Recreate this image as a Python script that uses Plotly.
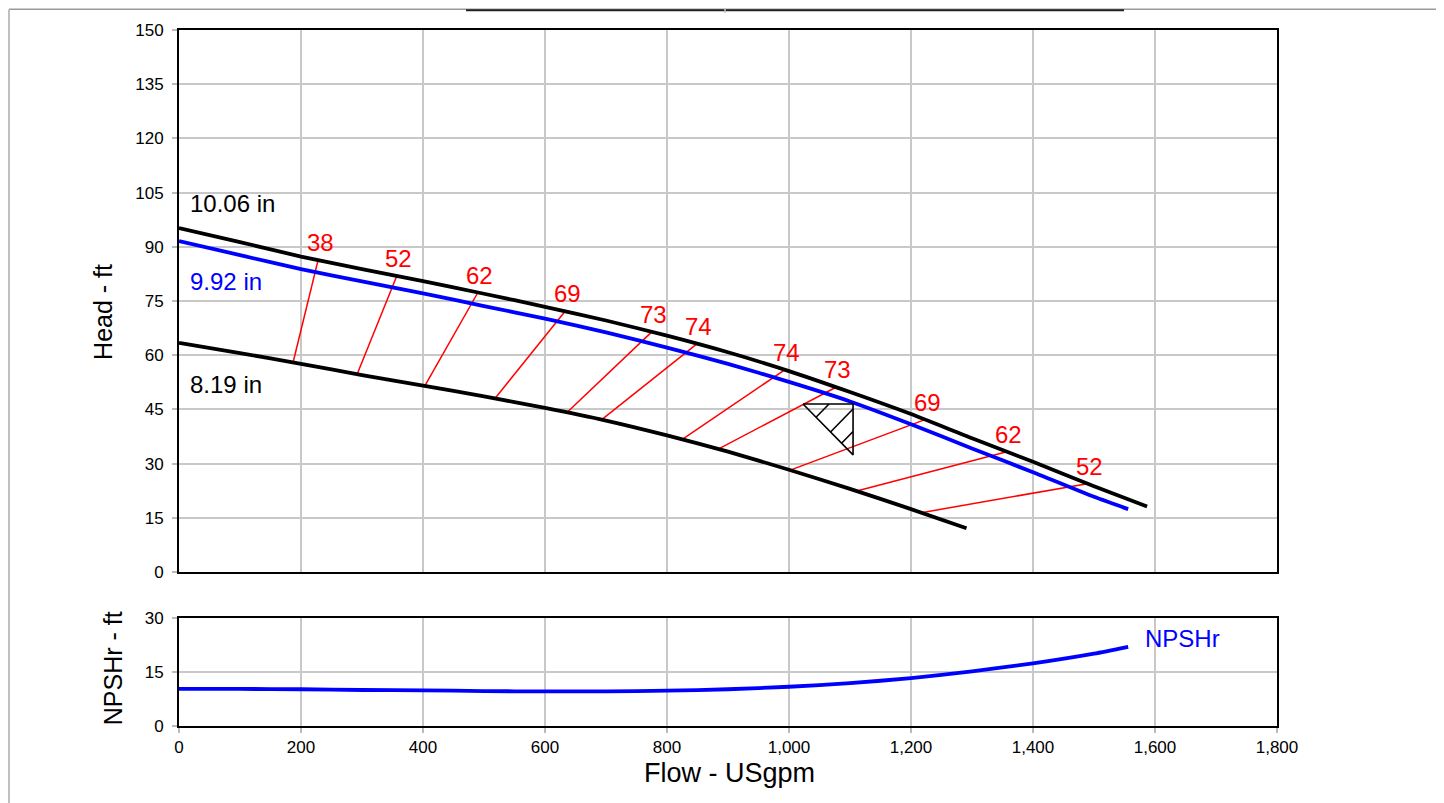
import numpy as np
import plotly.graph_objects as go

# ---------------- data ----------------
flow_1006 = [0, 100, 200, 300, 400, 500, 600, 700, 800, 900, 1000, 1100, 1200, 1300, 1400, 1500, 1587]
head_1006 = [95.2, 91.3, 87.3, 83.8, 80.5, 77.0, 73.4, 69.6, 65.4, 60.8, 55.6, 49.8, 43.7, 37.0, 30.5, 23.7, 18.1]

flow_992 = [0, 100, 200, 300, 400, 500, 600, 700, 800, 900, 1000, 1100, 1200, 1300, 1400, 1500, 1556]
head_992 = [91.6, 87.7, 83.8, 80.4, 77.1, 73.6, 70.1, 66.3, 62.1, 57.6, 52.6, 47.2, 40.9, 34.2, 27.6, 20.8, 17.4]

flow_819 = [0, 100, 200, 300, 400, 500, 600, 700, 800, 900, 1000, 1100, 1200, 1291]
head_819 = [63.4, 60.6, 57.6, 54.5, 51.6, 48.6, 45.4, 41.9, 37.8, 33.3, 28.3, 23.0, 17.4, 12.1]

eff_labels = [38, 52, 62, 69, 73, 74, 74, 73, 69, 62, 52]
eff_flow_low = [187, 292, 403, 518, 636, 693, 825, 884, 1002, 1111, 1217]
eff_flow_high = [228, 357, 490, 633, 775, 849, 993, 1077, 1223, 1357, 1489]

npsh_flow = [0, 100, 200, 300, 400, 500, 600, 700, 800, 900, 1000, 1100, 1200, 1300, 1400, 1500, 1556]
npsh_vals = [10.3, 10.3, 10.2, 10.0, 9.9, 9.7, 9.6, 9.6, 9.8, 10.2, 10.9, 11.9, 13.3, 15.2, 17.4, 20.1, 22.0]

duty_flow = 1105
duty_head = 46.5

impeller_labels = ["10.06 in", "9.92 in", "8.19 in"]
x_ticks = [0, 200, 400, 600, 800, 1000, 1200, 1400, 1600, 1800]

# ---------------- styling ----------------
FONT = "Liberation Sans, Arial, sans-serif"
GRID = "#c8c8c8"
BLUE = "#0000ff"
RED = "#ff0000"

fig = go.Figure()

# iso-efficiency lines (from 8.19 in curve to 10.06 in curve)
ex, ey = [], []
y_low = np.interp(eff_flow_low, flow_819, head_819)
y_high = np.interp(eff_flow_high, flow_1006, head_1006)
for ql, yl, qh, yh in zip(eff_flow_low, y_low, eff_flow_high, y_high):
    ex += [ql, qh, None]
    ey += [yl, yh, None]
fig.add_trace(go.Scatter(x=ex, y=ey, mode="lines", line=dict(color=RED, width=1.5),
                         hoverinfo="skip", showlegend=False, xaxis="x", yaxis="y"))

# head curves
spl = dict(shape="spline", smoothing=0.6)
fig.add_trace(go.Scatter(x=flow_819, y=head_819, mode="lines", line=dict(color="black", width=3.8, **spl),
                         showlegend=False, xaxis="x", yaxis="y"))
fig.add_trace(go.Scatter(x=flow_1006, y=head_1006, mode="lines", line=dict(color="black", width=3.8, **spl),
                         showlegend=False, xaxis="x", yaxis="y"))
fig.add_trace(go.Scatter(x=flow_992, y=head_992, mode="lines", line=dict(color=BLUE, width=3.8, **spl),
                         showlegend=False, xaxis="x", yaxis="y"))

# duty point triangle with hatching
tri_dq = 82.0
tri_dh = 14.1
q0, q1 = duty_flow - tri_dq, duty_flow
h0, h1 = duty_head, duty_head - tri_dh
fig.add_trace(go.Scatter(x=[q0, q1, q1, q0], y=[h0, h0, h1, h0], mode="lines",
                         line=dict(color="black", width=1.6), hoverinfo="skip", showlegend=False,
                         xaxis="x", yaxis="y"))
hx, hy = [], []
for t in [0.26, 0.55, 0.77]:
    u0, v0 = t, t
    if 2 * t <= 1:
        u1, v1 = 2 * t, 0.0
    else:
        u1, v1 = 1.0, 2 * t - 1
    hx += [q0 + u0 * tri_dq, q0 + u1 * tri_dq, None]
    hy += [h0 - v0 * tri_dh, h0 - v1 * tri_dh, None]
fig.add_trace(go.Scatter(x=hx, y=hy, mode="lines", line=dict(color="black", width=1.6),
                         hoverinfo="skip", showlegend=False, xaxis="x", yaxis="y"))

# NPSHr
fig.add_trace(go.Scatter(x=npsh_flow, y=npsh_vals, mode="lines", line=dict(color=BLUE, width=3.8, **spl),
                         showlegend=False, xaxis="x2", yaxis="y2"))

annotations = []
for lab, qh, yh in zip(eff_labels, eff_flow_high, y_high):
    annotations.append(dict(x=qh, y=yh, xref="x", yref="y", text=str(lab), showarrow=False,
                            xanchor="center", yanchor="bottom", xshift=2, yshift=2,
                            font=dict(family=FONT, size=24, color=RED)))

for txt, yv, col in zip(impeller_labels, [101.9, 80.5, 52.0], ["black", BLUE, "black"]):
    annotations.append(dict(x=14, y=yv, xref="x", yref="y", text=txt, showarrow=False,
                            xanchor="left", yanchor="middle", font=dict(family=FONT, size=24, color=col)))

annotations.append(dict(x=1580, y=24.4, xref="x2", yref="y2", text="NPSHr", showarrow=False,
                        xanchor="left", yanchor="middle", font=dict(family=FONT, size=24, color=BLUE)))

# axis titles
annotations.append(dict(x=-0.0692, y=0.595, xref="paper", yref="paper", text="Head - ft", showarrow=False,
                        textangle=-90, xanchor="center", yanchor="middle", font=dict(family=FONT, size=25, color="black")))
annotations.append(dict(x=-0.0601, y=0.083, xref="paper", yref="paper", text="NPSHr - ft", showarrow=False,
                        textangle=-90, xanchor="center", yanchor="middle", font=dict(family=FONT, size=25, color="black")))
annotations.append(dict(x=0.5018, y=-0.0675, xref="paper", yref="paper", text="Flow - USgpm", showarrow=False,
                        xanchor="center", yanchor="middle", font=dict(family=FONT, size=27, color="black")))

axis_common = dict(showgrid=True, gridcolor=GRID, gridwidth=1.5, showline=True, mirror=True,
                   linecolor="black", linewidth=2, zeroline=False,
                   tickfont=dict(family=FONT, size=17, color="black"))

# page frame lines (as close to the top-left edge as the canvas allows)
shapes = [
    dict(type="line", xref="paper", yref="paper", x0=-0.1548, x1=1.16, y0=1.0298, y1=1.0298,
         line=dict(color="#9a9a9a", width=1.5)),
    dict(type="line", xref="paper", yref="paper", x0=-0.1548, x1=-0.1548, y0=1.0298, y1=-0.12,
         line=dict(color="#c0c0c0", width=2)),
    dict(type="line", xref="paper", yref="paper", x0=0.2614, x1=0.8607, y0=1.0283, y1=1.0283,
         line=dict(color="#222222", width=2)),
    dict(type="line", xref="paper", yref="paper", x0=0.4973, x1=0.4973, y0=1.031, y1=1.0245,
         line=dict(color="#c0c0c0", width=1.5)),
]

fig.update_layout(
    width=1444, height=803,
    margin=dict(l=171, r=175, t=22, b=85),
    paper_bgcolor="white", plot_bgcolor="white",
    showlegend=False,
    font=dict(family=FONT, color="black"),
    xaxis=dict(domain=[0, 1], anchor="y", range=[0, 1800], tickvals=x_ticks, showticklabels=False,
               ticks="", **axis_common),
    yaxis=dict(domain=[0.2213, 1], anchor="x", range=[0, 150], dtick=15, ticks="outside", ticklen=5,
               tickcolor="#bbbbbb", tickwidth=1.5, ticklabelstandoff=5, **axis_common),
    xaxis2=dict(domain=[0, 1], anchor="y2", range=[0, 1800], tickvals=x_ticks, tickformat=",",
                ticks="outside", ticklen=5, tickcolor="#bbbbbb", tickwidth=1.5, matches="x", **axis_common),
    yaxis2=dict(domain=[0, 0.1552], anchor="x2", range=[0, 30], dtick=15, ticks="outside", ticklen=5,
                tickcolor="#bbbbbb", tickwidth=1.5, ticklabelstandoff=5, **axis_common),
    annotations=annotations,
    shapes=shapes,
)

fig.write_html("out.html")
